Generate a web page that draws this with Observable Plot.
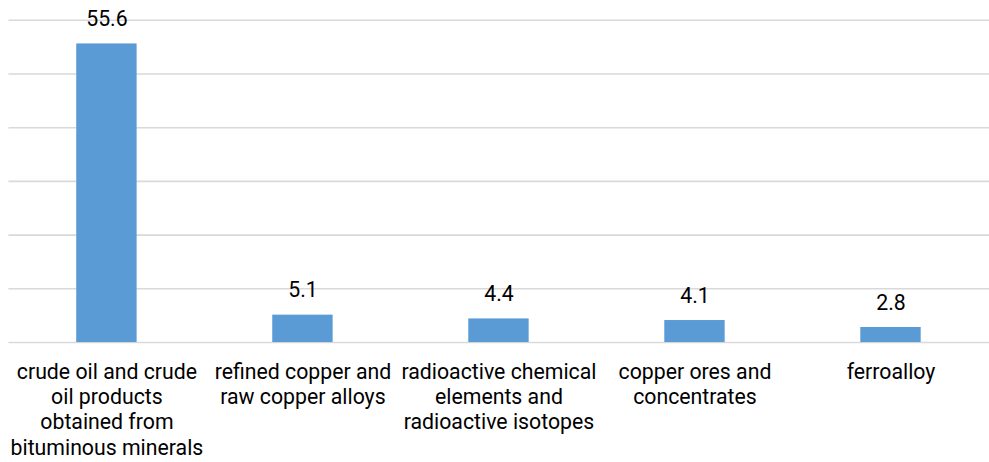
<!DOCTYPE html>
<html>
<head>
<meta charset="utf-8">
<script src="https://cdn.jsdelivr.net/npm/d3@7"></script>
<script src="https://cdn.jsdelivr.net/npm/@observablehq/plot@0.6"></script>
<style>
  html, body { margin: 0; padding: 0; background: #fff; overflow: hidden; }
  svg { display: block; }
</style>
</head>
<body>
<div id="chart"></div>
<script>
const categories = [
  "crude oil and crude oil products obtained from bituminous minerals",
  "refined copper and raw copper alloys",
  "radioactive chemical elements and radioactive isotopes",
  "copper ores and concentrates",
  "ferroalloy"
];
const values = [55.6, 5.1, 4.4, 4.1, 2.8];
const tickLabels = [
  "crude oil and crude\noil products\nobtained from\nbituminous minerals",
  "refined copper and\nraw copper alloys",
  "radioactive chemical\nelements and\nradioactive isotopes",
  "copper ores and\nconcentrates",
  "ferroalloy"
];
const yTicks = [0, 10, 20, 30, 40, 50, 60];

const data = categories.map((c, i) => ({category: c, value: values[i]}));
const labelOf = new Map(categories.map((c, i) => [c, tickLabels[i]]));

const chart = Plot.plot({
  width: 999,
  height: 462,
  marginLeft: 8.5,
  marginRight: 0,
  marginTop: 20,
  marginBottom: 116.5,
  style: {fontFamily: "Roboto, sans-serif", fontSize: "21.5px", color: "#000", background: "#fff"},
  x: {domain: categories, paddingInner: 0.69, paddingOuter: 0.345, label: null},
  y: {domain: [0, 60], label: null, axis: null},
  marks: [
    Plot.ruleY(yTicks, {stroke: "#d9d9d9", strokeWidth: 1.6}),
    Plot.barY(data, {x: "category", y: "value", fill: "#5b9bd5"}),
    Plot.text(data, {x: "category", y: "value", text: d => d.value.toFixed(1), lineAnchor: "bottom", dy: -18, fontSize: 21.5, fill: "#000"}),
    Plot.axisX({tickSize: 0, tickPadding: 19, tickFormat: d => labelOf.get(d), fontSize: 21.5, lineHeight: 1.18, fill: "#000", label: null})
  ]
});
document.getElementById("chart").appendChild(chart);
</script>
</body>
</html>
